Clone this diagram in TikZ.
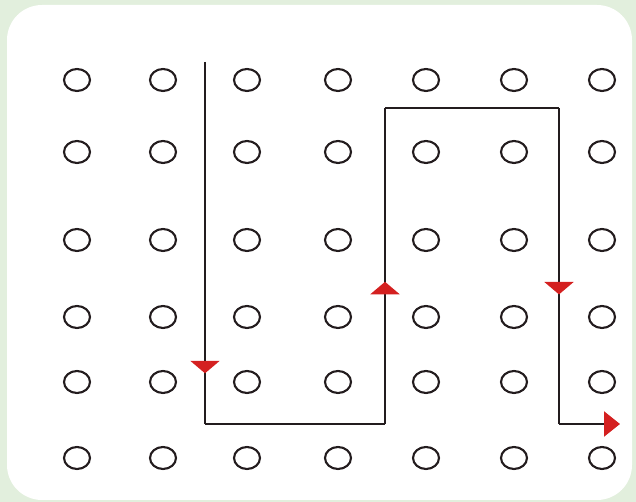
\documentclass[tikz,border=0pt]{standalone}
\usetikzlibrary{
    arrows.meta,         % For arrow tips
    decorations.markings,% For arrows along the route
    shapes.geometric     % For the ellipse holes
}
\definecolor{bggreen}{RGB}{226,239,221}
\definecolor{inkdark}{RGB}{35,28,30}
\definecolor{markred}{RGB}{212,32,32}

\begin{document}
\begin{tikzpicture}[
    x=0.02cm, y=-0.02cm,
    hole/.style={draw=inkdark, line width=1.2pt, ellipse, inner sep=0pt,
        minimum width=0.52cm, minimum height=0.44cm}, % Style for the grid holes
    route/.style={inkdark, line width=1.3pt}, % Style for the walked route
    % Style for a red triangle placed along a route segment
    dirmark/.style={
        decoration={markings, mark=at position #1 with
            {\arrow{Triangle[width=0.58cm, length=0.25cm, color=markred]}}},
        postaction={decorate}
    }
]

    % Page and card
    \useasboundingbox (0,0) rectangle (636,502);
    \fill[bggreen] (0,0) rectangle (636,502);
    \fill[white, rounded corners=0.7cm] (7,5) rectangle (632,500);

    % Grid of holes (columns a..g, rows 1..6)
    \foreach \cx/\cn in {77/a, 163/b, 247/c, 338/d, 426/e, 514/f, 602/g}{
        \foreach \cy/\rn in {80/1, 152/2, 240/3, 317/4, 382/5, 458/6}{
            \node[hole] (h\cn\rn) at (\cx,\cy) {};
        }
    }

    % Turning points of the route
    \coordinate (S)  at (205,62);  % Start at the top
    \coordinate (P1) at (205,424); % Bottom left corner
    \coordinate (P2) at (385,424); % Bottom of the rising leg
    \coordinate (P3) at (385,108); % Top left of the bump
    \coordinate (P4) at (559,108); % Top right of the bump
    \coordinate (P5) at (559,424); % Bottom right corner
    \coordinate (E)  at (620,424); % End of the route

    % Route segments with their direction marks
    \draw[route, dirmark=0.86] (S) -- (P1);
    \draw[route] (P1) -- (P2);
    \draw[route, dirmark=0.45] (P2) -- (P3);
    \draw[route] (P3) -- (P4);
    \draw[route, dirmark=0.59] (P4) -- (P5);
    \draw[route, -{Triangle[width=0.5cm, length=0.32cm, color=markred]}] (P5) -- (E);

\end{tikzpicture}
\end{document}
